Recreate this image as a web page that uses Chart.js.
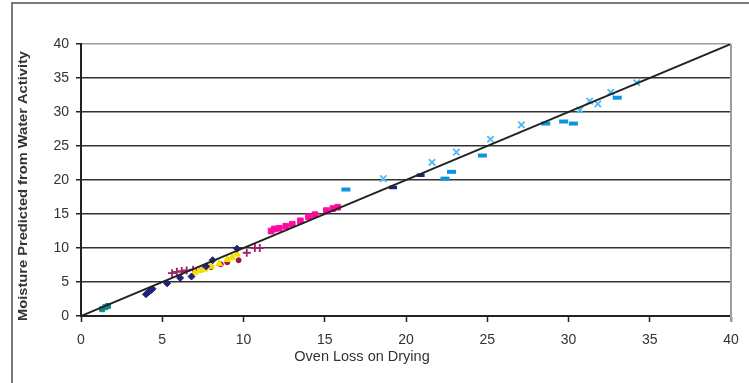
<!DOCTYPE html>
<html><head><meta charset="utf-8">
<script src="https://cdn.jsdelivr.net/npm/chart.js@4/dist/chart.umd.min.js"></script>
<style>html,body{margin:0;padding:0;background:#fff;}#wrap{width:749px;height:383px;position:relative;}</style>
</head><body><div id="wrap"><canvas id="c" width="749" height="383"></canvas></div>
<script>
const xTicks = [0,5,10,15,20,25,30,35,40];
const yTicks = [0,5,10,15,20,25,30,35,40];
const fitLine = [[0,0],[40,40]];
const tealSq = [[1.3,1.0],[1.5,1.3],[1.66,1.47]];
const navyDiamond = [[4.0,3.2],[4.15,3.5],[4.3,3.8],[4.4,4.0],[5.3,4.8],[6.1,5.6],[6.8,5.8],[7.7,7.3],[8.1,8.2],[9.6,9.9]];
const navyDash = [[19.2,18.9],[20.9,20.7]];
const yellowTri = [[7.0,6.4],[7.3,6.7],[7.6,6.9],[8.0,7.3],[8.5,7.7],[9.0,8.3],[9.3,8.6],[9.6,9.1]];
const redCircle = [[7.6,7.0],[8.0,7.2],[8.6,7.6],[9.0,7.9],[9.7,8.2]];
const purpleCross = [[5.6,6.3],[5.9,6.5],[6.2,6.6],[6.5,6.7],[6.9,6.8],[10.2,9.3],[10.7,10.0],[11.0,10.0]];
const magentaSq = [[11.7,12.5],[11.9,12.8],[12.2,12.9],[12.6,13.2],[13.0,13.5],[13.5,14.0],[14.0,14.6],[14.4,14.9],[15.1,15.5],[15.5,15.8],[15.8,16.0]];
const lightBlueX = [[18.6,20.2],[21.6,22.6],[23.1,24.1],[25.2,26.0],[27.1,28.1],[30.7,30.3],[31.3,31.6],[31.8,31.2],[32.6,32.9],[34.2,34.3]];
const blueDash = [[16.3,18.6],[22.4,20.2],[22.8,21.2],[24.7,23.6],[28.6,28.3],[29.7,28.6],[30.3,28.3],[33.0,32.1]];
const xTitle = "Oven Loss on Drying";
const yTitle = "Moisture Predicted from Water Activity";

const pts = a => a.map(p => ({x:p[0], y:p[1]}));
function ds(data, style, color, r, bw, fill){
  return {type:'scatter', data:pts(data), pointStyle:style, pointRadius:r, pointHoverRadius:r,
    backgroundColor: fill===false ? 'transparent' : color, borderColor:color, pointBorderWidth:bw, borderWidth:bw};
}
const FONT = "'Liberation Sans', Arial, sans-serif";

const decor = {
  id:'decor',
  beforeDraw(chart){
    const c = chart.ctx;
    c.save(); c.fillStyle='#fff'; c.fillRect(0,0,chart.width,chart.height); c.restore();
  },
  afterDraw(chart){
    const c = chart.ctx, a = chart.chartArea;
    c.save();
    c.strokeStyle='#7a7a7a'; c.lineWidth=2;
    c.strokeRect(12,3,800,500);
    c.strokeStyle='#a49c98'; c.lineWidth=2;
    c.beginPath(); c.moveTo(a.right,a.top); c.lineTo(a.right,a.bottom+6); c.stroke();
    c.fillStyle='#333'; c.font="14.5px "+FONT; c.textAlign='center'; c.textBaseline='middle';
    c.fillText(xTitle, 362, 357);
    c.translate(24, 186); c.rotate(-Math.PI/2);
    c.font="bold 12px "+FONT;
    const w = c.measureText(yTitle).width;
    c.scale(270/w, 1);
    c.fillText(yTitle, 0, 0);
    c.restore();
  }
};

new Chart(document.getElementById('c'), {
  type:'scatter',
  data:{datasets:[
    {type:'line', data:pts(fitLine), borderColor:'#222', borderWidth:2, pointRadius:0, fill:false, order:0},
    ds(tealSq,'rect','#0a8a8a',3.5,1),
    ds(navyDiamond,'rectRot','#22227a',3.5,1),
    ds(navyDash,'line','#22227a',4,3.5),
    ds(yellowTri,'triangle','#f2e000',4,1),
    ds(redCircle,'circle','#a01838',2.5,1),
    ds(purpleCross,'cross','#a0206a',4,1.8,false),
    ds(magentaSq,'rect','#ff0aa0',4,1),
    ds(lightBlueX,'crossRot','#4cbcf0',4.5,1.8,false),
    ds(blueDash,'line','#0a96dc',4.5,4)
  ]},
  options:{
    responsive:false, animation:false, devicePixelRatio:1,
    layout:{padding:{left:0,right:18,top:44,bottom:0}},
    plugins:{legend:{display:false}, tooltip:{enabled:false}},
    scales:{
      x:{type:'linear', min:0, max:40,
        afterBuildTicks: s => { s.ticks = xTicks.map(v=>({value:v})); },
        afterFit: s => { s.height = 67; },
        grid:{drawOnChartArea:false, drawTicks:true, tickLength:6, tickColor:'#222', tickWidth:1.5},
        border:{display:true, color:'#222', width:2},
        ticks:{color:'#333', font:{family:FONT, size:14}, padding:10, maxRotation:0}
      },
      y:{type:'linear', min:0, max:40,
        afterBuildTicks: s => { s.ticks = yTicks.map(v=>({value:v})); },
        afterFit: s => { s.width = 81; },
        grid:{drawOnChartArea:true, drawTicks:true, tickLength:5, tickColor:'#222', tickWidth:1.5,
          color: ctx => (ctx.tick && ctx.tick.value===40) ? '#a49c98' : '#333', lineWidth:1.5},
        border:{display:true, color:'#222', width:2},
        ticks:{color:'#333', font:{family:FONT, size:14}, padding:7}
      }
    }
  },
  plugins:[decor]
});
</script></body></html>
